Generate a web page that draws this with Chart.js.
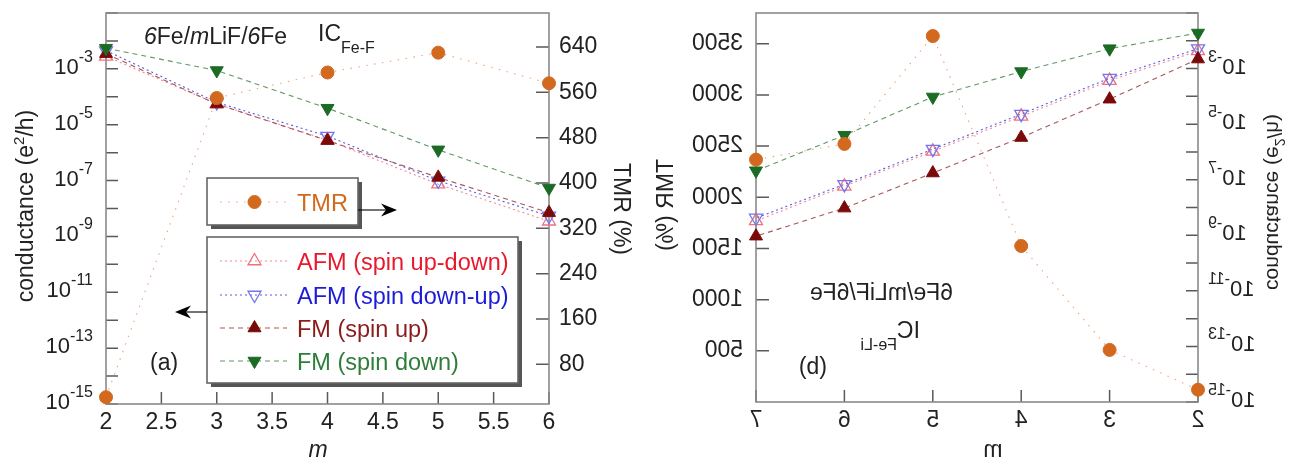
<!DOCTYPE html>
<html><head><meta charset="utf-8">
<script src="https://cdn.jsdelivr.net/npm/chart.js@4.4.1/dist/chart.umd.min.js"></script>
<style>
html,body{margin:0;padding:0;background:#fff;overflow:hidden;width:1295px;height:461px;}
#wa{position:absolute;left:0;top:0;width:650px;height:461px;}
#wb{position:absolute;left:650px;top:0;width:645px;height:461px;transform:scaleX(-1);}
canvas{display:block;}
</style></head><body>
<div id="wa"><canvas id="ca" width="650" height="461"></canvas></div>
<div id="wb"><canvas id="cb" width="645" height="461"></canvas></div>
<script>
// ---------- DATA ----------
// panel (a): IC Fe-F
const mA = [2, 3, 4, 5, 6];
const tmrA = [22, 550, 595, 630, 576];
const afmUpDownA = [2.8e-3, 5.6e-5, 2.8e-6, 7.4e-8, 3.5e-9];
const afmDownUpA = [4.5e-3, 6.3e-5, 3.9e-6, 9.8e-8, 5.4e-9];
const fmUpA = [3.5e-3, 5.5e-5, 2.7e-6, 1.3e-7, 7.1e-9];
const fmDownA = [5.5e-3, 8.7e-4, 3.9e-5, 1.26e-6, 5.4e-8];
// panel (b): IC Fe-Li
const mB = [2, 3, 4, 5, 6, 7];
const tmrB = [120, 509, 1524, 3575, 2521, 2368];
const afmUpDownB = [4.3e-3, 3.7e-4, 1.9e-5, 1.05e-6, 5.8e-8, 3.3e-9];
const afmDownUpB = [5.2e-3, 4.5e-4, 2.3e-5, 1.26e-6, 6.8e-8, 4.2e-9];
const fmUpB = [2.2e-3, 7.9e-5, 3.3e-6, 1.74e-7, 9.5e-9, 9.3e-10];
const fmDownB = [1.9e-2, 5.2e-3, 7.8e-4, 9.5e-5, 4.0e-6, 2.1e-7];
// ticks
const condTickExps = [-15,-14,-13,-12,-11,-10,-9,-8,-7,-6,-5,-4,-3,-2,-1];
const condLabelExps = [-3,-5,-7,-9,-11,-13,-15];
const tmrTicksA = [80,160,240,320,400,480,560,640];
const tmrTicksB = [500,1000,1500,2000,2500,3000,3500];
const mTicksA = [2,2.5,3,3.5,4,4.5,5,5.5,6];
const mTicksB = [2,3,4,5,6,7];
const seriesLabels = ['TMR','AFM (spin up-down)','AFM (spin down-up)','FM (spin up)','FM (spin down)'];

// ---------- STYLE ----------
const FONT = "'Liberation Sans', Arial, Helvetica, sans-serif";
Chart.defaults.font.family = FONT;
const ST = {
  tmr:   {label: seriesLabels[0], mk:'#d2691e', line:'#eda47c', dash:[1.5,6.5], style:'circle',   r:6.5, fill:true,  rot:0,   text:'#d2691e'},
  afmUD: {label: seriesLabels[1], mk:'#f0707c', line:'#f08a92', dash:[2,3],     style:'triangle', r:7.5, fill:false, rot:0,   text:'#e8192c'},
  afmDU: {label: seriesLabels[2], mk:'#7474ee', line:'#5a5ae0', dash:[2,3],     style:'triangle', r:7.5, fill:false, rot:180, text:'#1c1cd8'},
  fmUp:  {label: seriesLabels[3], mk:'#7a0a0a', line:'#a85858', dash:[5,4],     style:'triangle', r:7.5, fill:true,  rot:0,   text:'#8b1c1c'},
  fmDn:  {label: seriesLabels[4], mk:'#1b6b24', line:'#5f9a64', dash:[5,4],     style:'triangle', r:7.5, fill:true,  rot:180, text:'#2f7d3a'}
};

function ds(xs, ys, st, axis) {
  return {
    label: st.label, yAxisID: axis,
    data: xs.map((m, i) => ({x: m, y: ys[i]})),
    borderColor: st.line, borderWidth: 1.1, borderDash: st.dash,
    pointStyle: st.style, pointRadius: st.r, pointHoverRadius: st.r, pointRotation: st.rot,
    pointBackgroundColor: st.fill ? st.mk : 'rgba(255,255,255,0)',
    pointBorderColor: st.mk, pointBorderWidth: st.fill ? 1 : 1.3,
    tension: 0, fill: false, clip: false, showLine: true
  };
}

function rich(ctx, parts, x, y, align, rot, off) {
  ctx.save();
  ctx.translate(x, y);
  if (rot) ctx.rotate(rot);
  ctx.textAlign = 'left'; ctx.textBaseline = 'alphabetic';
  const fonts = parts.map(p => (p.it ? 'italic ' : '') + p.size + 'px ' + FONT);
  let w = 0; const ws = [];
  parts.forEach((p, i) => { ctx.font = fonts[i]; const m = ctx.measureText(p.t).width; ws.push(m); w += m; });
  let cx = align === 'center' ? -w / 2 : align === 'right' ? -w : 0;
  parts.forEach((p, i) => {
    ctx.font = fonts[i]; ctx.fillStyle = p.c || '#222';
    ctx.fillText(p.t, cx, (off || 0) + (p.dy || 0)); cx += ws[i];
  });
  ctx.restore();
}

function drawMarker(ctx, st, x, y) {
  ctx.save();
  ctx.beginPath();
  if (st.style === 'circle') {
    ctx.arc(x, y, st.r, 0, Math.PI * 2);
  } else {
    let rad = st.rot * Math.PI / 180;
    for (let k = 0; k < 3; k++) {
      const px = x + Math.sin(rad) * st.r, py = y - Math.cos(rad) * st.r;
      if (k === 0) ctx.moveTo(px, py); else ctx.lineTo(px, py);
      rad += 2 * Math.PI / 3;
    }
    ctx.closePath();
  }
  ctx.lineWidth = st.fill ? 1 : 1.3;
  ctx.strokeStyle = st.mk;
  if (st.fill) { ctx.fillStyle = st.mk; ctx.fill(); }
  ctx.stroke();
  ctx.restore();
}

function frameAndTicks(chart, cfg) {
  const ctx = chart.ctx, a = chart.chartArea;
  const xs = chart.scales.x, yl = chart.scales.y, yr = chart.scales.y2;
  ctx.save();
  ctx.strokeStyle = '#5a5a5a'; ctx.lineWidth = 1.5;
  ctx.beginPath();
  cfg.mTicks.forEach(v => { const p = xs.getPixelForValue(v); ctx.moveTo(p, a.bottom); ctx.lineTo(p, a.bottom - 12); });
  condTickExps.forEach(e => { const p = yl.getPixelForValue(Math.pow(10, e)); ctx.moveTo(a.left, p); ctx.lineTo(a.left + 12, p); });
  cfg.tmrTicks.forEach(v => { const p = yr.getPixelForValue(v); ctx.moveTo(a.right, p); ctx.lineTo(a.right - 13, p); });
  ctx.stroke();
  ctx.strokeStyle = '#8a8a8a'; ctx.lineWidth = 1.6;
  ctx.strokeRect(a.left, a.top, a.right - a.left, a.bottom - a.top);
  // log labels with superscripts
  condLabelExps.forEach(e => {
    const p = yl.getPixelForValue(Math.pow(10, e));
    rich(ctx, [{t:'10', size:22}, {t:String(e), size:16, dy:-12}], a.left - cfg.logGap, p + 5, 'right');
  });
  ctx.restore();
}

function box(ctx, x, y, w, h) {
  ctx.save();
  ctx.fillStyle = '#555';
  ctx.fillRect(x + 4, y + 4, w, h);
  ctx.fillStyle = '#fff';
  ctx.fillRect(x, y, w, h);
  ctx.strokeStyle = '#666'; ctx.lineWidth = 1.6;
  ctx.strokeRect(x, y, w, h);
  ctx.restore();
}

function legendRow(ctx, st, y) {
  ctx.save();
  ctx.strokeStyle = st.line; ctx.lineWidth = 1.1; ctx.setLineDash(st.dash);
  ctx.beginPath(); ctx.moveTo(220, y); ctx.lineTo(287, y); ctx.stroke();
  ctx.restore();
  drawMarker(ctx, st, 254.5, y);
  rich(ctx, [{t: st.label, size: 23.5, c: st.text}], 297, y, 'left', 0, 8.5);
}

function arrow(ctx, x0, x1, y) {
  const dir = x1 > x0 ? 1 : -1;
  ctx.save();
  ctx.strokeStyle = '#000'; ctx.fillStyle = '#000'; ctx.lineWidth = 1.1;
  ctx.beginPath(); ctx.moveTo(x0, y); ctx.lineTo(x1 - dir * 10, y); ctx.stroke();
  ctx.beginPath();
  ctx.moveTo(x1, y);
  ctx.lineTo(x1 - dir * 16, y - 6.5);
  ctx.lineTo(x1 - dir * 11, y);
  ctx.lineTo(x1 - dir * 16, y + 6.5);
  ctx.closePath(); ctx.fill();
  ctx.restore();
}

const plugA = {
  id: 'decorA',
  beforeDatasetsDraw(chart) { frameAndTicks(chart, {mTicks: mTicksA, tmrTicks: tmrTicksA, logGap: 13}); },
  afterDraw(chart) {
    const ctx = chart.ctx;
    rich(ctx, [{t:'conductance (e', size:23}, {t:'2', size:15, dy:-9}, {t:'/h)', size:23}], 25, 206, 'center', -Math.PI/2, 8);
    rich(ctx, [{t:'TMR (%)', size:23}], 622, 209, 'center', Math.PI/2, 8);
    rich(ctx, [{t:'m', size:23, it:true}], 318, 452, 'center', 0, 5);
    rich(ctx, [{t:'6', size:23, it:true}, {t:'Fe/', size:23}, {t:'m', size:23, it:true}, {t:'LiF/', size:23}, {t:'6', size:23, it:true}, {t:'Fe', size:23}], 144, 44, 'left');
    rich(ctx, [{t:'IC', size:23}, {t:'Fe-F', size:16, dy:11.7}], 318, 41, 'left');
    rich(ctx, [{t:'(a)', size:23}], 150, 362, 'left', 0, 8);
    box(ctx, 207, 178, 151, 47);
    legendRow(ctx, ST.tmr, 202);
    arrow(ctx, 358, 397, 210);
    box(ctx, 207, 237, 311, 146);
    legendRow(ctx, ST.afmUD, 261);
    legendRow(ctx, ST.afmDU, 295);
    legendRow(ctx, ST.fmUp, 328);
    legendRow(ctx, ST.fmDn, 361);
    arrow(ctx, 207, 175, 312);
  }
};

const plugB = {
  id: 'decorB',
  beforeDatasetsDraw(chart) { frameAndTicks(chart, {mTicks: mTicksB, tmrTicks: tmrTicksB, logGap: 10}); },
  afterDraw(chart) {
    const ctx = chart.ctx;
    rich(ctx, [{t:'conductance (e', size:21}, {t:'2', size:14, dy:-8}, {t:'/h)', size:21}], 20, 202, 'center', -Math.PI/2, 7.5);
    rich(ctx, [{t:'TMR (%)', size:23}], 630, 205, 'center', Math.PI/2, 8);
    rich(ctx, [{t:'m', size:23}], 302, 452, 'center', 0, 5);
    rich(ctx, [{t:'6Fe/mLiF/6Fe', size:23}], 342, 300, 'left');
    rich(ctx, [{t:'IC', size:23}, {t:'Fe-Li', size:16, dy:11.8}], 375, 338, 'left');
    rich(ctx, [{t:'(b)', size:23}], 468, 366, 'left', 0, 8);
  }
};

function zeroPad(s) { s.paddingTop = 0; s.paddingBottom = 0; s.paddingLeft = 0; s.paddingRight = 0; }

function makeChart(id, cfg) {
  const xs = cfg.m;
  return new Chart(document.getElementById(id), {
    type: 'line',
    data: {
      datasets: [
        ds(xs, cfg.tmr, ST.tmr, 'y2'),
        ds(xs, cfg.fmDn, ST.fmDn, 'y'),
        ds(xs, cfg.fmUp, ST.fmUp, 'y'),
        ds(xs, cfg.afmDU, ST.afmDU, 'y'),
        ds(xs, cfg.afmUD, ST.afmUD, 'y')
      ]
    },
    options: {
      responsive: false, animation: false, devicePixelRatio: 1,
      layout: {padding: {top: 13, left: 0, right: 0, bottom: 0}},
      plugins: {legend: {display: false}, tooltip: {enabled: false}},
      scales: {
        x: {
          type: 'linear', position: 'bottom', min: xs[0], max: xs[xs.length - 1],
          grid: {display: false, drawTicks: false}, border: {display: false},
          ticks: {font: {size: 23}, color: '#222', padding: 5, maxRotation: 0, autoSkip: false, callback: v => String(v)},
          afterBuildTicks: s => { s.ticks = cfg.mTicks.map(v => ({value: v})); },
          afterFit: s => { s.height = cfg.xH; zeroPad(s); }
        },
        y: {
          type: 'logarithmic', position: 'left', min: 1e-15, max: 1e-1,
          grid: {display: false, drawTicks: false}, border: {display: false},
          ticks: {display: false},
          afterBuildTicks: s => { s.ticks = condTickExps.map(e => ({value: Math.pow(10, e)})); },
          afterFit: s => { s.width = cfg.lW; zeroPad(s); }
        },
        y2: {
          type: 'linear', position: 'right', min: cfg.tmrMin, max: cfg.tmrMax,
          grid: {display: false, drawTicks: false}, border: {display: false},
          ticks: {font: {size: 23}, color: '#222', padding: cfg.rPad, callback: v => String(v)},
          afterBuildTicks: s => { s.ticks = cfg.tmrTicks.map(v => ({value: v})); },
          afterFit: s => { s.width = cfg.rW; zeroPad(s); }
        }
      }
    },
    plugins: [cfg.plugin]
  });
}

makeChart('ca', {m: mA, tmr: tmrA, fmDn: fmDownA, fmUp: fmUpA, afmDU: afmDownUpA, afmUD: afmUpDownA,
  mTicks: mTicksA, tmrTicks: tmrTicksA, tmrMin: 10, tmrMax: 700, xH: 57, lW: 106, rW: 101, rPad: 10, plugin: plugA});
makeChart('cb', {m: mB, tmr: tmrB, fmDn: fmDownB, fmUp: fmUpB, afmDU: afmDownUpB, afmUD: afmUpDownB,
  mTicks: mTicksB, tmrTicks: tmrTicksB, tmrMin: 0, tmrMax: 3800, xH: 59, lW: 97, rW: 106, rPad: 13, plugin: plugB});
</script>
</body></html>
